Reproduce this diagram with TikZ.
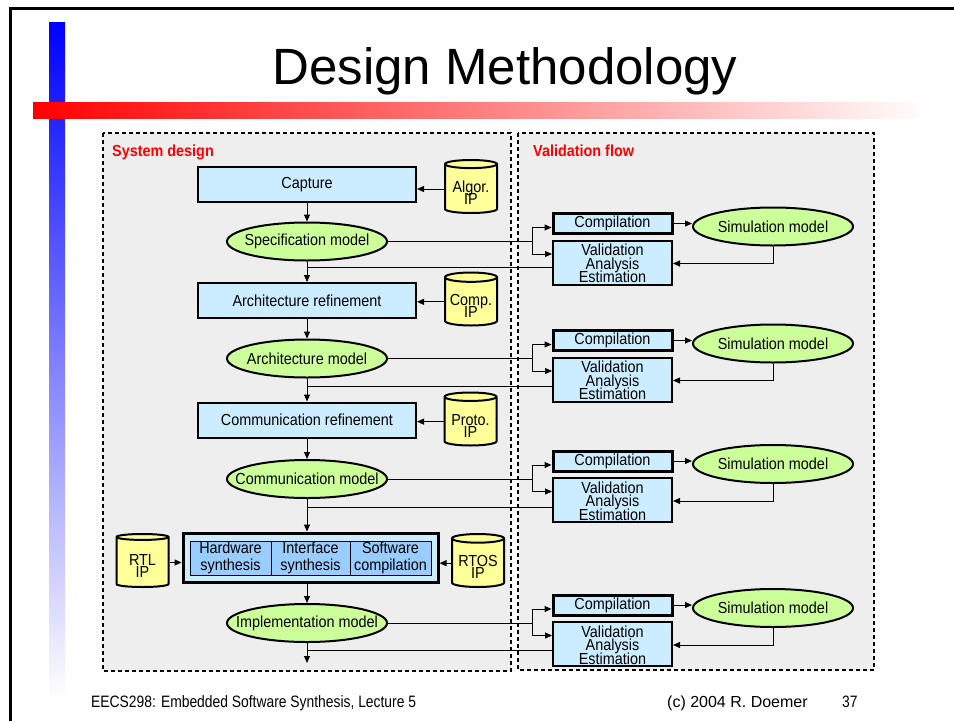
\documentclass[tikz,border=0pt]{standalone}
\usepackage{fontspec}
\setmainfont{Liberation Sans}[FakeStretch=0.9]
\newfontfamily\plainsans{Liberation Sans}
\newfontfamily\narrowsans{Liberation Sans}[FakeStretch=0.84]
\usetikzlibrary{arrows.meta, positioning, calc, shapes.geometric}
\definecolor{boxblue}{HTML}{CCECFF}
\definecolor{synblue}{HTML}{99CCFF}
\definecolor{modelgreen}{HTML}{CCFF99}
\definecolor{ipyellow}{HTML}{FFFF99}
\definecolor{panelgray}{HTML}{EEEEEE}
\newcommand{\fsz}[2]{\fontsize{#1}{#2}\selectfont}
\newcommand{\zw}[1]{\makebox[0pt]{#1}}
\newcommand{\cstack}[2]{\raisebox{#1}[0pt][0pt]{\vbox{\lineskiplimit=-100pt\relax\halign{\hfil##\hfil\cr#2\crcr}}}}

\begin{document}
\begin{tikzpicture}[x=1pt, y=-1pt,
  >={Triangle[length=7pt,width=6pt]},
  panel/.style={draw, dash pattern=on 4pt off 3pt, line width=1.2pt, fill=panelgray},
  panelhead/.style={anchor=base west, text=red, inner sep=0pt, font=\fsz{16}{19}\bfseries},
  stage/.style={draw, line width=2pt, fill=boxblue, minimum width=218, minimum height=35, inner sep=0pt, font=\fsz{16}{19}},
  model/.style={draw, ellipse, line width=2pt, fill=modelgreen, minimum width=160, minimum height=38, inner sep=0pt, font=\fsz{16}{19}},
  ipdb/.style={draw, cylinder, shape border rotate=90, aspect=0.22, anchor=shape center, line width=2pt, fill=ipyellow, minimum width=52, minimum height=53, inner sep=0pt, font=\fsz{16}{12}},
  comp/.style={draw, line width=3pt, fill=boxblue, minimum width=119, minimum height=20, inner sep=0pt, font=\fsz{16}{19}},
  valbox/.style={draw, line width=2pt, fill=boxblue, minimum width=119, minimum height=44, inner sep=0pt, font=\fsz{16}{13.5}},
  synpart/.style={draw, line width=0.8pt, fill=synblue, minimum height=34, inner sep=0pt, align=center, font=\fsz{16}{17}},
  conn/.style={line width=1pt},
  footer/.style={anchor=base west, inner sep=0pt}
]
  \useasboundingbox (0,0) rectangle (954,721);
  \shade[top color=blue, bottom color=white] (49,22) rectangle (65,700);
  \shade[left color=red, right color=white] (33,102) rectangle (930,118);
  \draw[line width=3pt] (10.5,721) -- (10.5,8) -- (954,8);
  \node[anchor=base, inner sep=0pt, font=\plainsans\fsz{51}{55}] (title) at (505,84) {Design Methodology};

  \draw[panel] (103,133) rectangle (511,671);
  \draw[panel] (518,133) rectangle (874,670);
  \node[panelhead] (sysdes) at (112,156) {System design};
  \node[panelhead] (valflow) at (533,156) {Validation flow};

  \node[stage] (capture) at (307,184.5) {Capture};
  \node[model] (specm) at (307,241.5) {\zw{Specification model}};
  \node[stage] (archr) at (307,300.5) {Architecture refinement};
  \node[model] (archm) at (307,358.5) {\zw{Architecture model}};
  \node[stage] (commr) at (307,420) {Communication refinement};
  \node[model] (commm) at (307,479) {\zw{Communication model}};
  \node[draw, line width=3pt, fill=boxblue, minimum width=255, minimum height=49] (synth) at (310.5,557.5) {};
  \node[synpart, minimum width=81] (hwsyn) at (230.5,558) {Hardware\\synthesis};
  \node[synpart, minimum width=79] (ifsyn) at (310.5,558) {Interface\\synthesis};
  \node[synpart, minimum width=81] (swcomp) at (390.5,558) {Software\\compilation};
  \node[model] (implm) at (307,623) {\zw{Implementation model}};
  \coordinate (outm) at (307,663);

  \node[ipdb] (algor) at (471,186.5) {\cstack{-15.5pt}{Algor.\cr IP}};
  \node[ipdb] (compip) at (471,299) {\cstack{-15.5pt}{Comp.\cr IP}};
  \node[ipdb] (protoip) at (470.5,419) {\cstack{-15.5pt}{Proto.\cr IP}};
  \node[ipdb] (rtlip) at (142.5,560.5) {\cstack{-15.5pt}{RTL\cr IP}};
  \node[ipdb] (rtosip) at (478,560.5) {\cstack{-15.5pt}{RTOS\cr IP}};

  \draw[conn,->] (capture) -- (specm);
  \draw[conn,->] (specm) -- (archr);
  \draw[conn,->] (archr) -- (archm);
  \draw[conn,->] (archm) -- (commr);
  \draw[conn,->] (commr) -- (commm);
  \draw[conn,->] (commm) -- (commm |- synth.north);
  \draw[conn,->] (synth.south -| implm) -- (implm);
  \draw[conn,->] (implm) -- (outm);

  \draw[conn,->] (algor.west) -- (algor.west -| capture.east);
  \draw[conn,->] (compip.west) -- (compip.west -| archr.east);
  \draw[conn,->] (protoip.west) -- (protoip.west -| commr.east);
  \draw[conn,->] (rtlip.east) -- (rtlip.east -| synth.west);
  \draw[conn,->] (rtosip.west) -- (rtosip.west -| synth.east);

  \foreach \m/\ym/\bry/\r in {specm/241.5/267/a, archm/358.5/386/b, commm/479/507/c, implm/623/650/d} {
    \node[comp] (comp\r) at (612.5,{\ym-18}) {Compilation};
    \node[valbox] (val\r) at (612.5,{\ym+21}) {\cstack{-20pt}{Validation\cr Analysis\cr Estimation}};
    \node[model] (sim\r) at (773,{\ym-15}) {\zw{Simulation model}};
    \coordinate (split\r) at (532,\ym);
    \coordinate (br\r) at (307,\bry);
    \draw[conn] (\m.east) -- (split\r);
    \draw[conn,->] (split\r) |- ($(comp\r.west)+(0,4)$);
    \draw[conn,->] (split\r) |- ($(val\r.west)+(0,-8.5)$);
    \draw[conn] (br\r) -- (br\r -| val\r.west);
    \draw[conn,->] (comp\r.east) -- (comp\r.east -| sim\r.west);
    \draw[conn,->] (sim\r.south) |- ($(val\r.east)+(0,1)$);
  }

  \node[footer, font=\narrowsans\fsz{16.5}{19}] (course) at (91,707) {EECS298: Embedded Software Synthesis, Lecture 5};
  \node[footer, font=\plainsans\fsz{16}{19}] (author) at (667,707) {(c) 2004 R. Doemer};
  \node[footer, font=\narrowsans\fsz{16.5}{19}] (pagenum) at (842,707) {37};
\end{tikzpicture}
\end{document}
